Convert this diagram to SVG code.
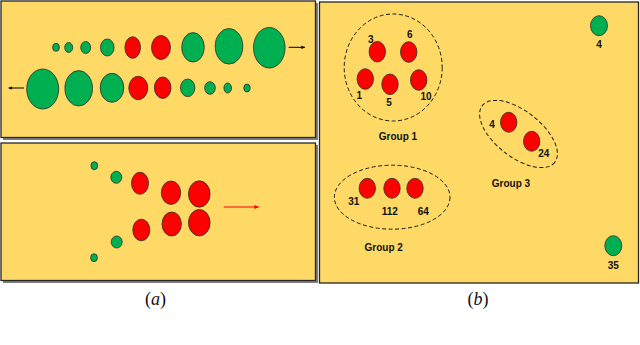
<svg xmlns="http://www.w3.org/2000/svg" width="640" height="345" viewBox="0 0 640 345">
<defs>
<marker id="ab" viewBox="0 0 10 10" refX="9" refY="5" markerWidth="4" markerHeight="4" orient="auto"><path d="M0,1 L10,5 L0,9 z" fill="#000"/></marker>
<marker id="ar" viewBox="0 0 10 10" refX="9" refY="5" markerWidth="4" markerHeight="4" orient="auto"><path d="M0,1 L10,5 L0,9 z" fill="#FF0000"/></marker>
</defs>
<style>
.panel{fill:#FFD966;stroke:#262626;stroke-width:1.3}
.sh{fill:#7f7f7f}
.g{fill:#00B050;stroke:#2b2b2b;stroke-width:0.8}
.r{fill:#FF0000;stroke:#2b2b2b;stroke-width:0.8}
.grp{fill:none;stroke:#1a1a1a;stroke-width:1;stroke-dasharray:4 2.5}
.lbl{font-family:"Liberation Sans",Arial,sans-serif;font-weight:bold;font-size:10px;fill:#111;text-anchor:middle}
.cap{font-family:"Liberation Serif","Times New Roman",serif;font-size:18px;fill:#111;text-anchor:middle}
</style>
<rect width="640" height="345" fill="#fff"/>
<g id="panel-a-top">
<rect class="sh" x="3" y="3" width="315" height="137"/>
<rect class="panel" x="1" y="1" width="314.5" height="136.5"/>
</g>
<g id="panel-a-bottom">
<rect class="sh" x="3" y="145" width="315" height="138"/>
<rect class="panel" x="1" y="143" width="314.5" height="137.5"/>
</g>
<g id="panel-b">
<rect class="panel" x="319.5" y="2" width="319" height="281"/>
</g>
<g id="row1">
<ellipse class="g" cx="56" cy="47.3" rx="3.4" ry="4"/>
<ellipse class="g" cx="68.7" cy="47.5" rx="4" ry="5"/>
<ellipse class="g" cx="85.7" cy="47.5" rx="5" ry="6"/>
<ellipse class="g" cx="107.3" cy="47.5" rx="6.8" ry="8.5"/>
<ellipse class="r" cx="132.7" cy="47.5" rx="7.8" ry="10.8"/>
<ellipse class="r" cx="161" cy="47.5" rx="9.5" ry="12"/>
<ellipse class="g" cx="193" cy="47.3" rx="11.3" ry="14.7"/>
<ellipse class="g" cx="229" cy="46.3" rx="13.8" ry="17.8"/>
<ellipse class="g" cx="269.3" cy="47.7" rx="15.8" ry="20.3"/>
</g>
<g id="row2">
<ellipse class="g" cx="42.7" cy="89" rx="16" ry="20"/>
<ellipse class="g" cx="78.7" cy="88.3" rx="13.8" ry="17.7"/>
<ellipse class="g" cx="112" cy="87.8" rx="11.8" ry="14.5"/>
<ellipse class="r" cx="138.3" cy="88" rx="9.5" ry="11.7"/>
<ellipse class="r" cx="162.7" cy="87.7" rx="8.3" ry="10.7"/>
<ellipse class="g" cx="187.7" cy="87.8" rx="7.2" ry="8.8"/>
<ellipse class="g" cx="210" cy="88" rx="5.3" ry="6.3"/>
<ellipse class="g" cx="227.7" cy="88" rx="3.8" ry="5"/>
<ellipse class="g" cx="247" cy="88" rx="3.2" ry="4"/>
</g>
<g id="cluster-a-bottom">
<ellipse class="g" cx="94.3" cy="165.7" rx="3.4" ry="4"/>
<ellipse class="g" cx="116.3" cy="177.3" rx="5.5" ry="6"/>
<ellipse class="r" cx="140" cy="183.3" rx="8.5" ry="11"/>
<ellipse class="r" cx="171" cy="192.7" rx="9.7" ry="11.7"/>
<ellipse class="r" cx="199.3" cy="194" rx="10.8" ry="13.2"/>
<ellipse class="r" cx="141.3" cy="230" rx="8.5" ry="10.8"/>
<ellipse class="r" cx="171.7" cy="224" rx="9.7" ry="12"/>
<ellipse class="r" cx="199.3" cy="222.7" rx="10.8" ry="13.2"/>
<ellipse class="g" cx="116.7" cy="242" rx="5.5" ry="6"/>
<ellipse class="g" cx="94" cy="257.7" rx="3.4" ry="4"/>
</g>
<g id="group1">
<ellipse class="grp" cx="393.2" cy="67.5" rx="49" ry="53.5"/>
<ellipse class="r" cx="377.3" cy="51.7" rx="8.2" ry="10.3"/>
<ellipse class="r" cx="408.7" cy="52" rx="8.2" ry="10.3"/>
<ellipse class="r" cx="365.3" cy="79" rx="8.2" ry="10.3"/>
<ellipse class="r" cx="390" cy="84.3" rx="8.2" ry="10.3"/>
<ellipse class="r" cx="418.7" cy="80" rx="8.2" ry="10.3"/>
<text class="lbl" x="370.7" y="43">3</text>
<text class="lbl" x="409.7" y="38">6</text>
<text class="lbl" x="359.3" y="99">1</text>
<text class="lbl" x="389" y="106">5</text>
<text class="lbl" x="426" y="100">10</text>
<text class="lbl" x="398" y="139.5">Group 1</text>
</g>
<g id="group3">
<ellipse class="grp" cx="518.5" cy="134" rx="46" ry="23" transform="rotate(38 518.5 134)"/>
<ellipse class="r" cx="508.7" cy="122.3" rx="8.2" ry="10"/>
<ellipse class="r" cx="531.7" cy="141.3" rx="8.2" ry="10"/>
<text class="lbl" x="492" y="127.5">4</text>
<text class="lbl" x="543.7" y="157">24</text>
<text class="lbl" x="511" y="187">Group 3</text>
</g>
<g id="group2">
<ellipse class="grp" cx="392.2" cy="197.2" rx="57.8" ry="32"/>
<ellipse class="r" cx="367.3" cy="188.3" rx="8.2" ry="10"/>
<ellipse class="r" cx="392" cy="188.3" rx="8.2" ry="10"/>
<ellipse class="r" cx="415" cy="188.3" rx="8.2" ry="10"/>
<text class="lbl" x="353.7" y="205">31</text>
<text class="lbl" x="389.7" y="215">112</text>
<text class="lbl" x="423.3" y="215">64</text>
<text class="lbl" x="383.7" y="250.5">Group 2</text>
</g>
<g id="outlier-4">
<ellipse class="g" cx="599" cy="25.7" rx="8.5" ry="10"/>
<text class="lbl" x="599" y="48">4</text>
</g>
<g id="outlier-35">
<ellipse class="g" cx="613.3" cy="245.7" rx="8.5" ry="10"/>
<text class="lbl" x="613.3" y="268.5">35</text>
</g>
<g id="connectors">
<line x1="288.7" y1="47.3" x2="305" y2="47.3" stroke="#000" stroke-width="1" marker-end="url(#ab)"/>
<line x1="24" y1="88" x2="8.7" y2="88" stroke="#000" stroke-width="1" marker-end="url(#ab)"/>
<line x1="223.7" y1="207" x2="258.7" y2="207" stroke="#FF0000" stroke-width="1.2" marker-end="url(#ar)"/>
</g>
<g id="captions">
<text class="cap" x="155.5" y="305">(<tspan font-style="italic">a</tspan>)</text>
<text class="cap" x="478" y="305">(<tspan font-style="italic">b</tspan>)</text>
</g>
</svg>
